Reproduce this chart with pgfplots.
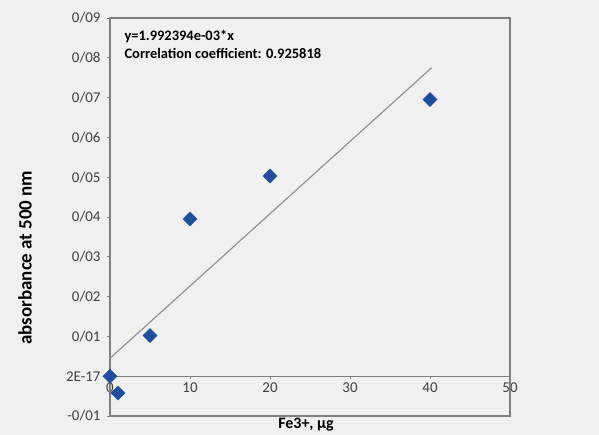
\documentclass[border=0pt]{standalone}
\usepackage{pgfplots}
\pgfplotsset{compat=1.18}
\usepackage{fontspec}
\setmainfont{Carlito}
\definecolor{bg}{HTML}{F0F0F0}
\definecolor{mk}{HTML}{1F4E9C}
\definecolor{ln}{HTML}{8C8C8C}
\definecolor{fr}{HTML}{7F7F7F}
\begin{document}
\begin{tikzpicture}[x=1bp,y=1bp]
\fill[bg] (0,0) rectangle (599,435);
\useasboundingbox (0,0) rectangle (599,435);
\begin{axis}[
  at={(110bp,19bp)}, anchor=south west,
  scale only axis, width=400bp, height=398bp,
  xmin=0, xmax=50, ymin=-0.01, ymax=0.09,
  scaled y ticks=false, scaled x ticks=false,
  axis x line=middle, axis y line=left,
  axis line style={-, fr, line width=1pt},
  hide obscured x ticks=false, hide obscured y ticks=false,
  xtick={0,10,20,30,40,50},
  ytick={-0.01,0,0.01,0.02,0.03,0.04,0.05,0.06,0.07,0.08,0.09},
  yticklabels={-0/01,2E-17,0/01,0/02,0/03,0/04,0/05,0/06,0/07,0/08,0/09},
  xticklabels={0,10,20,30,40,50},
  tick align=outside, major tick length=3bp,
  tick style={fr, line width=0.6pt},
  ticklabel style={font=\fontsize{15}{17}\selectfont, text=black!75},
  xticklabel style={anchor=north, yshift=0bp},
  yticklabel style={anchor=east, xshift=-3bp},
  ylabel={absorbance at 500 nm},
  ylabel style={at={(axis description cs:-0.2125,0.398)}, anchor=center, rotate=0, font=\bfseries\fontsize{19}{22}\selectfont},
  xlabel={Fe3+, µg},
  xlabel style={at={(axis description cs:0.49,0)}, anchor=north, yshift=-1bp, inner sep=1bp, font=\bfseries\fontsize{16}{18}\selectfont},
  clip=false,
]
\draw[fr, line width=1.2pt] (rel axis cs:0,0) rectangle (rel axis cs:1,1);
\addplot[ln, line width=1.1pt] coordinates {(0,0.0045) (40.2,0.0775)};
\addplot[only marks, mark=square*, mark size=5bp, mk, mark options={fill=mk, draw=mk, rotate=45}] coordinates {
  (0,0) (1,-0.0042) (5,0.0102) (10,0.0395) (20,0.0503) (40,0.0695)
};
\node[anchor=north west, align=left, font=\bfseries\fontsize{14.5}{18}\selectfont, inner sep=0pt] at (axis cs:1.8,0.087) {y=1.992394e-03*x\\Correlation coefficient: 0.925818};
\end{axis}
\end{tikzpicture}
\end{document}
